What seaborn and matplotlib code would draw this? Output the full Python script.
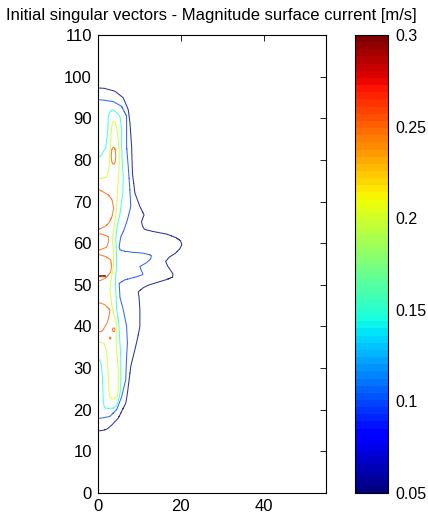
import numpy as np
import matplotlib
matplotlib.use("Agg")
import matplotlib.pyplot as plt
import seaborn as sns
from matplotlib.colors import Normalize
from matplotlib.cm import ScalarMappable

# ---------------- data ----------------
TITLE = "Initial singular vectors - Magnitude surface current [m/s]"
LEVELS = [0.05, 0.10, 0.15, 0.20, 0.25, 0.30]
CBAR_TICKS = [0.05, 0.10, 0.15, 0.20, 0.25, 0.30]
CBAR_LABELS = ["0.05", "0.1", "0.15", "0.2", "0.25", "0.3"]
X_TICKS = [0, 20, 40]
Y_TICKS = list(range(0, 111, 10))

# contour extents per level: y, inner x (0 = reaches coast), outer x
L05_Y = [14.9, 15.3, 16.3, 18.0, 19.2, 21.6, 24.0, 27.2, 30.4, 33.6, 37.0, 40.0, 44.0, 47.0,
         48.3, 49.3, 50.0, 50.6, 51.2, 51.8, 52.5, 53.5, 54.5, 55.6, 56.6, 57.6, 58.6, 59.6,
         60.6, 61.4, 62.2, 62.8, 63.3, 64.2, 65.2, 66.8, 68.8, 72.0, 76.8, 83.2, 88.9, 92.0,
         94.9, 96.5, 97.2]
L05_OUT = [0.6, 2.2, 3.4, 5.0, 5.6, 6.8, 7.2, 7.6, 8.0, 8.8, 9.6, 10.2, 10.2, 10.0,
           9.8, 11.0, 12.5, 14.5, 16.5, 18.0, 18.2, 17.6, 16.9, 16.4, 17.2, 18.8, 19.8, 20.3,
           20.0, 18.8, 16.7, 13.5, 11.3, 10.8, 10.6, 11.2, 10.2, 9.0, 8.4, 8.2, 7.8, 7.4,
           6.2, 4.2, 1.5]
L05_IN = [0.0] * len(L05_Y)

L10_Y = [18.0, 18.4, 20.0, 23.1, 27.2, 32.8, 36.0, 40.0, 44.0, 47.0, 50.4, 51.2, 51.6, 52.0,
         52.5, 53.3, 54.4, 55.3, 56.2, 57.1, 57.6, 57.9, 58.3, 59.2, 61.6, 63.0, 65.6, 68.8,
         72.8, 78.4, 83.2, 90.5, 92.9, 94.0, 94.4]
L10_OUT = [1.0, 3.0, 4.6, 5.8, 6.8, 7.0, 7.2, 7.0, 6.2, 5.4, 5.2, 6.5, 8.0, 9.6,
           11.0, 10.6, 10.2, 11.8, 12.8, 13.0, 11.0, 7.0, 5.4, 5.2, 5.6, 6.3, 7.2, 8.0,
           7.8, 7.4, 7.0, 7.0, 5.8, 3.8, 1.0]
L10_IN = [0.0] * len(L10_Y)

L15_Y = [20.3, 20.7, 22.0, 24.8, 28.0, 31.0, 32.0, 32.4, 36.0, 41.0, 44.0, 48.8, 51.2, 55.0,
         59.2, 61.0, 64.0, 67.0, 70.0, 72.0, 76.0, 80.4, 81.2, 83.0, 87.3, 90.5, 91.5, 92.0]
L15_IN = [2.0, 1.6, 1.4, 1.3, 1.2, 0.9, 0.5, 0.0, 0.0, 0.0, 0.0, 0.0, 0.0, 0.0,
          0.0, 0.0, 0.0, 0.0, 0.0, 0.0, 0.0, 0.0, 1.0, 2.0, 2.5, 2.6, 3.0, 3.5]
L15_OUT = [3.6, 4.4, 5.0, 5.6, 5.6, 5.6, 5.6, 5.6, 5.4, 5.1, 4.6, 4.4, 4.3, 4.6,
           4.5, 4.4, 4.7, 5.4, 5.8, 6.1, 6.2, 5.9, 5.9, 5.8, 5.8, 5.4, 4.5, 3.9]

L20_Y = [22.6, 23.2, 25.0, 30.0, 34.0, 36.0, 36.4, 41.0, 44.0, 48.8, 52.0, 55.0, 58.0, 61.0,
         64.0, 68.0, 72.0, 75.4, 75.8, 78.0, 82.0, 85.0, 88.0, 89.2]
L20_IN = [3.4, 2.9, 2.7, 2.5, 2.2, 1.5, 0.0, 0.0, 0.0, 0.0, 0.0, 0.0, 0.0, 0.0,
          0.0, 0.0, 0.0, 0.0, 2.2, 2.8, 3.0, 3.2, 3.4, 3.8]
L20_OUT = [4.0, 4.8, 5.0, 5.0, 4.6, 4.5, 4.5, 4.5, 3.6, 3.0, 3.4, 3.9, 3.8, 3.6,
           4.0, 4.6, 4.8, 5.0, 5.1, 5.2, 5.2, 5.0, 4.6, 4.2]

L25A_Y = [79.0, 79.6, 81.0, 82.4, 83.0]
L25A_IN = [3.7, 3.4, 3.3, 3.4, 3.7]
L25A_OUT = [4.0, 4.3, 4.4, 4.3, 4.0]
L25B_Y = [63.4, 64.0, 64.8, 66.4, 68.4, 70.4, 71.6, 72.4, 72.8]
L25B_OUT = [0.5, 1.8, 2.7, 3.5, 3.9, 3.5, 2.6, 1.2, 0.4]
L25C_Y = [58.4, 59.0, 60.5, 61.6, 62.2]
L25C_OUT = [0.5, 2.2, 2.7, 2.6, 1.0]
L25D_Y = [51.0, 51.6, 52.8, 54.4, 56.0, 56.8, 57.2]
L25D_OUT = [0.6, 1.9, 3.1, 3.4, 3.2, 2.0, 0.5]
L25E_Y = [38.7, 39.0, 40.8, 42.5, 44.0, 45.2, 45.7]
L25E_OUT = [0.6, 1.2, 2.3, 2.8, 3.0, 1.8, 0.6]
L25F_Y = [38.8, 39.2, 39.6]
L25F_IN = [3.7, 3.6, 3.7]
L25F_OUT = [4.1, 4.2, 4.1]
L25G_Y = [36.9, 37.5]
L25G_IN = [2.9, 2.9]
L25G_OUT = [3.2, 3.2]

L30_Y = [52.0, 52.4]
L30_IN = [0.5, 0.5]
L30_OUT = [1.9, 1.9]

SEGMENTS = {
    0.05: [(L05_Y, L05_IN, L05_OUT)],
    0.10: [(L10_Y, L10_IN, L10_OUT)],
    0.15: [(L15_Y, L15_IN, L15_OUT)],
    0.20: [(L20_Y, L20_IN, L20_OUT)],
    0.25: [(L25A_Y, L25A_IN, L25A_OUT),
           (L25B_Y, [0.0] * len(L25B_Y), L25B_OUT),
           (L25C_Y, [0.0] * len(L25C_Y), L25C_OUT),
           (L25D_Y, [0.0] * len(L25D_Y), L25D_OUT),
           (L25E_Y, [0.0] * len(L25E_Y), L25E_OUT),
           (L25F_Y, L25F_IN, L25F_OUT),
           (L25G_Y, L25G_IN, L25G_OUT)],
    0.30: [(L30_Y, L30_IN, L30_OUT)],
}

# ---------------- build the magnitude field from the extents ----------------
xg = np.linspace(0, 55, 1101)
yg = np.arange(0, 110.0001, 0.2)
Z = np.zeros((len(yg), len(xg)))
step = 0.05
for i, yy in enumerate(yg):
    dist = {}
    for L in LEVELS:
        dm = np.full(xg.shape, -np.inf)
        for sy, sin, sout in SEGMENTS[L]:
            if sy[0] <= yy <= sy[-1]:
                a = np.interp(yy, sy, sin)
                b = np.interp(yy, sy, sout)
                if a <= 0.05:
                    dd = b - xg
                else:
                    dd = np.minimum(xg - a, b - xg)
                dm = np.maximum(dm, dd)
        dist[L] = dm
    d0 = dist[LEVELS[0]]
    z = 0.05 + 0.01 * np.maximum(d0, -4.0)
    for k, L in enumerate(LEVELS):
        dL = dist[L]
        inside = dL >= 0
        if not inside.any():
            continue
        if k + 1 < len(LEVELS):
            dn = dist[LEVELS[k + 1]]
            with np.errstate(invalid="ignore", divide="ignore"):
                frac = np.where(np.isfinite(dn), dL / (dL - dn), np.minimum(dL, 1.5) / 3.0)
            frac = np.where(dn >= 0, 1.0, frac)
        else:
            frac = np.minimum(dL, 1.5) / 3.0
        z = np.where(inside, L + step * np.clip(frac, 0, 1), z)
    Z[i] = z

# ---------------- plot ----------------
sns.set_theme(style="white")
plt.rcParams["font.family"] = ["Liberation Sans", "DejaVu Sans"]

fig = plt.figure(figsize=(4.28, 5.24), dpi=100)
ax = fig.add_axes([97.5 / 428, 31 / 524, 228.5 / 428, 458 / 524])
cax = fig.add_axes([355 / 428, 31 / 524, 33 / 428, 458 / 524])

jet = plt.get_cmap("jet", 64)
norm = Normalize(vmin=0.05, vmax=0.30)
ax.contour(xg, yg, Z, levels=LEVELS, cmap=jet, norm=norm, linewidths=0.75, alpha=0.8)

ax.set_xlim(0, 55)
ax.set_ylim(0, 110)
ax.set_xticks(X_TICKS)
ax.set_yticks(Y_TICKS)
ax.tick_params(direction="in", length=4, width=0.6, top=True, right=True,
               labelsize=12, colors="black", pad=4)
for sp in ax.spines.values():
    sp.set_color("black")
    sp.set_linewidth(0.8)
ax.set_facecolor("white")
ax.set_title(TITLE, fontsize=12, pad=11, color="black")

cb = fig.colorbar(ScalarMappable(norm=norm, cmap=jet), cax=cax)
cb.set_ticks(CBAR_TICKS)
cb.set_ticklabels(CBAR_LABELS)
cax.tick_params(direction="in", length=4, width=0.6, left=True, right=True,
                labelsize=11.5, colors="black", pad=5)
cb.outline.set_edgecolor("black")
cb.outline.set_linewidth(0.8)

fig.savefig("out.png", dpi=100, facecolor="white")
